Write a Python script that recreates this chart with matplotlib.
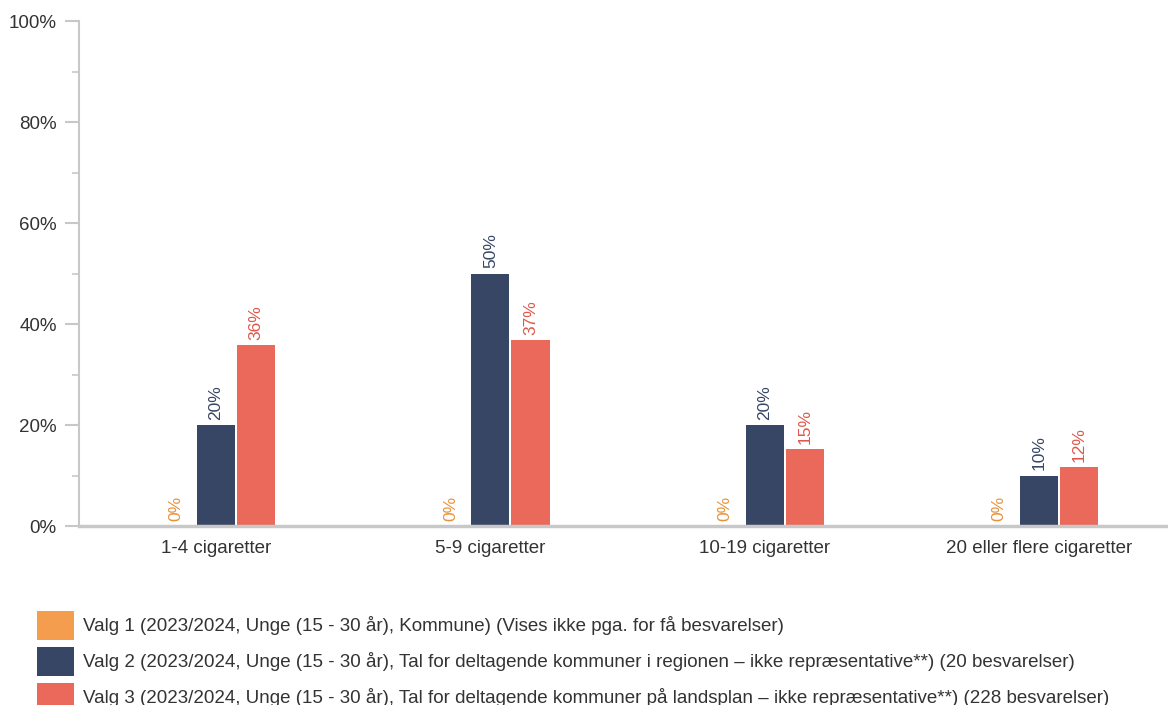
import matplotlib
matplotlib.use('Agg')
import matplotlib.pyplot as plt
from matplotlib.patches import Rectangle
import numpy as np

plt.rcParams['font.family'] = ['Liberation Sans', 'DejaVu Sans']

# Data
categories = ['1-4 cigaretter', '5-9 cigaretter', '10-19 cigaretter', '20 eller flere cigaretter']
valg1 = [0, 0, 0, 0]
valg2 = [20, 50, 20, 10]
valg3 = [35.8, 36.8, 15.2, 11.7]
series_names = [
    'Valg 1 (2023/2024, Unge (15 - 30 år), Kommune) (Vises ikke pga. for få besvarelser)',
    'Valg 2 (2023/2024, Unge (15 - 30 år), Tal for deltagende kommuner i regionen – ikke repræsentative**) (20 besvarelser)',
    'Valg 3 (2023/2024, Unge (15 - 30 år), Tal for deltagende kommuner på landsplan – ikke repræsentative**) (228 besvarelser)',
]
bar_colors = ['#F59D4F', '#374665', '#EB695B']
label_colors = ['#E8913A', '#374665', '#E0574A']

W, H = 1168, 705
fig = plt.figure(figsize=(W / 100, H / 100), dpi=100)
ax = fig.add_axes([0.0676, 0.2539, 0.9324, 0.7163])

x = np.arange(len(categories))
width = 0.139
offsets = [-0.146, 0, 0.146]
for vals, off, col, lcol in zip([valg1, valg2, valg3], offsets, bar_colors, label_colors):
    ax.bar(x + off, vals, width, color=col)
    for xi, v in zip(x + off, vals):
        ax.text(xi, v + 1.0, f'{round(v)}%', rotation=90, ha='center', va='bottom',
                color=lcol, fontsize=12.5)

ax.set_xlim(-0.5, 3.47)
ax.set_ylim(0, 100)
ax.set_yticks(np.arange(0, 101, 20))
ax.set_yticks(np.arange(10, 100, 20), minor=True)
ax.set_yticklabels([f'{t}%' for t in range(0, 101, 20)])
ax.set_xticks(x)
ax.set_xticklabels(categories)

for s in ['top', 'right']:
    ax.spines[s].set_visible(False)
ax.spines['left'].set_color('#c8c8c8')
ax.spines['left'].set_linewidth(1.5)
ax.spines['bottom'].set_color('#c8c8c8')
ax.spines['bottom'].set_linewidth(2.5)
ax.tick_params(axis='y', which='major', length=10, width=1.5, color='#c8c8c8',
               labelsize=13.5, labelcolor='#333333', pad=6)
ax.tick_params(axis='y', which='minor', length=5, width=1.2, color='#c8c8c8')
ax.tick_params(axis='x', length=0, labelsize=13.5, labelcolor='#333333', pad=10)

# legend drawn by hand: coloured squares + text
for i, (name, col) in enumerate(zip(series_names, bar_colors)):
    top = 611 + 36 * i
    fig.add_artist(Rectangle((37 / W, 1 - (top + 29) / H), 37 / W, 29 / H,
                             transform=fig.transFigure, color=col, lw=0))
    fig.text(83 / W, 1 - (top + 14.5) / H, name, ha='left', va='center',
             fontsize=13.5, color='#333333')

fig.savefig('out.png', dpi=100)
